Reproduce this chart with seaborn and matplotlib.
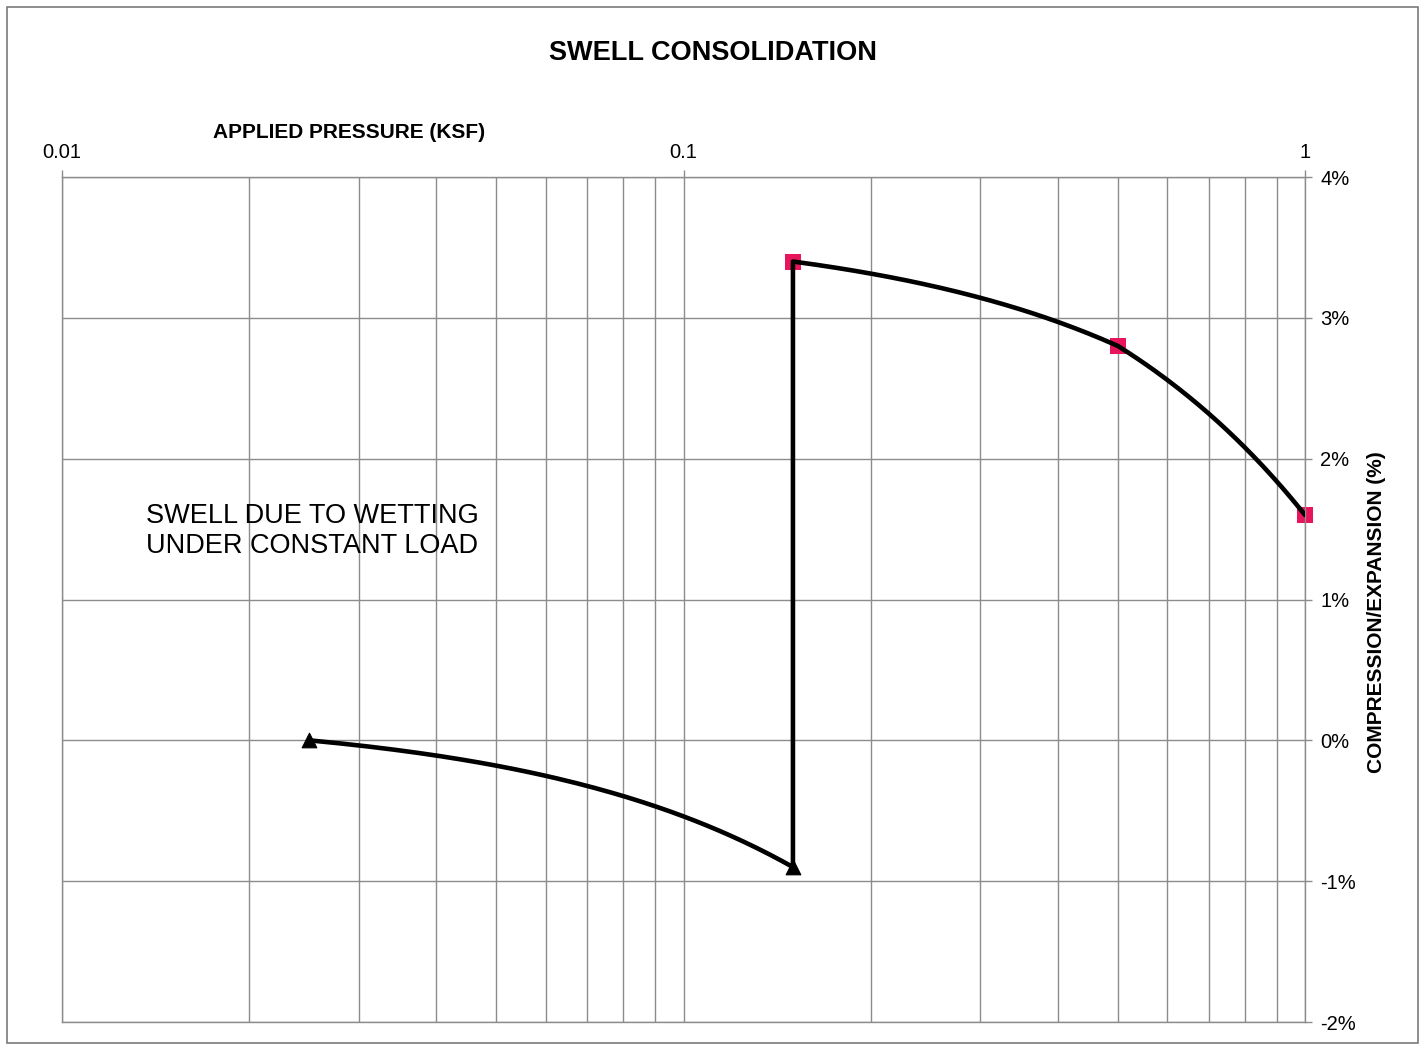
import numpy as np
import matplotlib
matplotlib.use("Agg")
import matplotlib.pyplot as plt
import seaborn as sns
from matplotlib.path import Path
from matplotlib.patches import Rectangle
from matplotlib.ticker import FixedLocator, LogLocator, NullFormatter

# Swell-consolidation readings: applied pressure (ksf) and movement (%)
dry_pressure = [0.025, 0.15]
dry_movement = [0.0, -0.9]
wet_pressure = [0.15, 0.5, 1.0]
wet_movement = [3.4, 2.8, 1.6]

x_ticks = [0.01, 0.1, 1]
x_tick_labels = ["0.01", "0.1", "1"]
y_ticks = [-2, -1, 0, 1, 2, 3, 4]
y_tick_labels = ["-2%", "-1%", "0%", "1%", "2%", "3%", "4%"]

sns.set_theme(style="white")
plt.rcParams["font.family"] = ["Liberation Sans", "DejaVu Sans"]
plt.rcParams["text.color"] = "black"

W, H = 1421, 1047
fig = plt.figure(figsize=(W / 100, H / 100), dpi=100)
fig.patch.set_facecolor("white")
ax = fig.add_axes([62 / W, 1 - 1022 / H, (1305 - 62) / W, (1022 - 177) / H])

grid_color = "#8c8c8c"

ax.set_xscale("log")
ax.set_xlim(0.01, 1)
ax.set_ylim(-2, 4)

ax.xaxis.set_major_locator(FixedLocator(x_ticks))
ax.set_xticklabels(x_tick_labels)
ax.xaxis.set_minor_locator(LogLocator(base=10, subs=np.arange(2, 10)))
ax.xaxis.set_minor_formatter(NullFormatter())
ax.yaxis.set_major_locator(FixedLocator(y_ticks))
ax.set_yticklabels(y_tick_labels)

ax.xaxis.tick_top()
ax.yaxis.tick_right()
ax.tick_params(axis="both", which="major", direction="out", length=5, width=1,
               color=grid_color, labelcolor="black", labelsize=14.5, pad=6)
ax.tick_params(axis="x", which="minor", length=0)

ax.grid(True, axis="x", which="both", color=grid_color, linewidth=1)
ax.grid(True, axis="y", which="major", color=grid_color, linewidth=1)
for sp in ax.spines.values():
    sp.set_visible(True)
    sp.set_color(grid_color)
    sp.set_linewidth(1)

# Test path: loading dry, wetting under constant load, then loading wet.
# Segments are straight in pressure (linear) and rendered on the log axis.
path_x = dry_pressure + wet_pressure
path_y = dry_movement + wet_movement
verts = Path(np.column_stack([path_x, path_y])).interpolated(80).vertices
ax.plot(verts[:, 0], verts[:, 1], color="black", linewidth=3.3,
        solid_capstyle="round", solid_joinstyle="round", zorder=3)

sns.scatterplot(x=wet_pressure, y=wet_movement, marker="s", s=130,
                color="#e8145c", linewidth=0, ax=ax, zorder=2.5, clip_on=False)
sns.scatterplot(x=dry_pressure, y=dry_movement, marker="^", s=110,
                color="black", edgecolor="black", ax=ax, zorder=4, clip_on=False)

ax.set_xlabel("")
ax.set_ylabel("")

fig.text(713 / W, 1 - 53 / H, "SWELL CONSOLIDATION", ha="center", va="center",
         fontsize=19.5, fontweight="bold")
fig.text(349 / W, 1 - 133 / H, "APPLIED PRESSURE (KSF)", ha="center", va="center",
         fontsize=15, fontweight="bold")
fig.text(1377 / W, 1 - 612 / H, "COMPRESSION/EXPANSION (%)", ha="center",
         va="center", rotation=90, fontsize=15, fontweight="bold")
fig.text(146 / W, 1 - 531 / H, "SWELL DUE TO WETTING\nUNDER CONSTANT LOAD",
         ha="left", va="center", fontsize=19.5, linespacing=1.2)

fig.patches.append(Rectangle((7 / W, 1 - 1043 / H), (1418 - 7) / W, (1043 - 7) / H,
                             transform=fig.transFigure, fill=False,
                             edgecolor="#7a7a7a", linewidth=1.2))

fig.savefig("out.png", dpi=100)
